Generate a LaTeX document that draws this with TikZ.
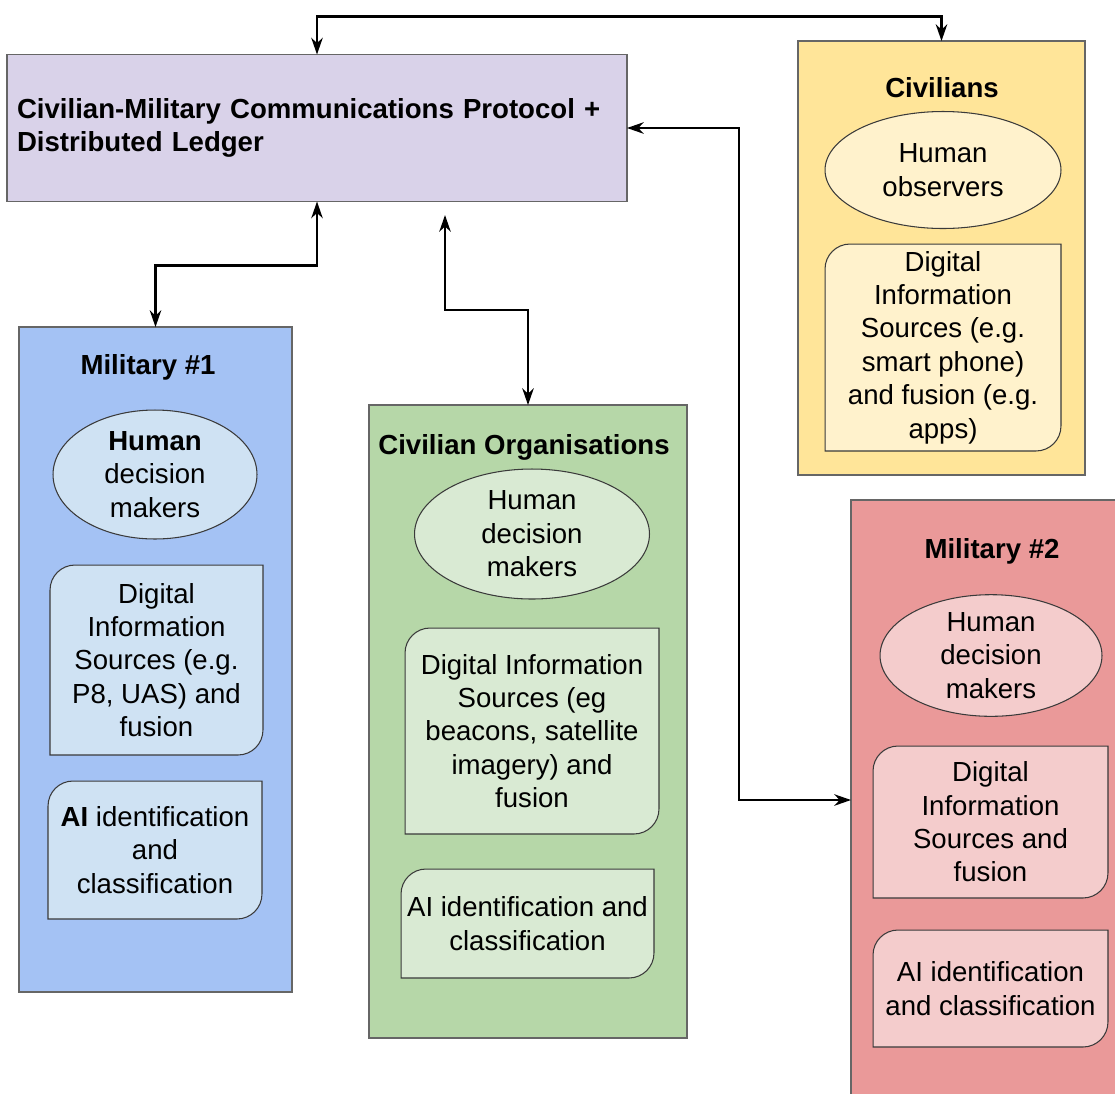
\documentclass[tikz,border=0pt]{standalone}
\usepackage{fontspec}
\setmainfont{Liberation Sans}
\usepackage{xcolor}
\usepackage{tikz}
\usetikzlibrary{arrows.meta,shapes.geometric}

\pgfdeclarelayer{back}
\pgfdeclarelayer{mid}
\pgfsetlayers{back,mid,main}

\definecolor{groupline}{HTML}{666666}
\definecolor{shapeline}{HTML}{3A3A3A}
\definecolor{ledgerfill}{HTML}{D9D2E9}
\definecolor{mil1fill}{HTML}{A4C2F4}
\definecolor{mil1light}{HTML}{CFE2F3}
\definecolor{orgfill}{HTML}{B6D7A8}
\definecolor{orglight}{HTML}{D9EAD3}
\definecolor{civfill}{HTML}{FFE599}
\definecolor{civlight}{HTML}{FFF2CC}
\definecolor{mil2fill}{HTML}{EA9999}
\definecolor{mil2light}{HTML}{F4CCCC}

\tikzset{
  every node/.style={font=\fontsize{15.7}{19}\selectfont, outer sep=0pt},
  group/.style={rectangle, draw=groupline, line width=0.7pt, inner sep=0pt},
  title/.style={font=\fontsize{15.7}{19}\selectfont\bfseries},
  human/.style={ellipse, draw=shapeline, line width=0.6pt, inner sep=0pt, align=center},
  srctext/.style={rectangle, inner sep=0pt, align=center},
  srcline/.style={draw=shapeline, line width=0.6pt},
  link/.style={<->, line width=1.4pt}
}

% box with two rounded corners (top left, bottom right), drawn under the text
\newcommand{\srcshape}[2]{%
  \begin{pgfonlayer}{mid}
  \filldraw[srcline, fill=#2] (#1.south west) -- ([yshift=-0.5cm]#1.north west)
    arc[start angle=180, end angle=90, radius=0.5cm] -- (#1.north east)
    -- ([yshift=0.5cm]#1.south east) arc[start angle=0, end angle=-90, radius=0.5cm] -- cycle;
  \end{pgfonlayer}}

\begin{document}
\begin{tikzpicture}[x=0.02cm, y=0.02cm, >={Stealth[length=9.5pt,width=6.5pt,inset=3pt]}]
  \useasboundingbox (0,0) rectangle (1115,-1093);

  % groups
  \begin{pgfonlayer}{back}
  \node[group, fill=ledgerfill, minimum width=12.4cm, minimum height=2.94cm, text width=12cm, align=left,
        font=\fontsize{15.7}{19}\selectfont\bfseries] (proto) at (317,-128)
        {Civilian-Military Communications Protocol +\\Distributed Ledger};
  \node[group, fill=mil1fill, minimum width=5.46cm, minimum height=13.3cm] (mil1) at (155.5,-659.5) {};
  \node[group, fill=orgfill, minimum width=6.36cm, minimum height=12.66cm] (civorg) at (528,-721.5) {};
  \node[group, fill=civfill, minimum width=5.74cm, minimum height=8.68cm] (civ) at (941.5,-258) {};
  \node[group, fill=mil2fill, minimum width=5.4cm, minimum height=12cm] (mil2) at (986,-800) {};
  \end{pgfonlayer}

  \node[title] (mil1title) at (148,-367) {Military \#1};
  \node[title] (orgtitle) at (524,-447) {Civilian Organisations};
  \node[title] (civtitle) at (942,-88) {Civilians};
  \node[title] (mil2title) at (992,-551) {Military \#2};

  % decision makers
  \node[human, fill=mil1light, minimum width=4.08cm, minimum height=2.58cm] (mil1human) at (155,-474.5) {\textbf{Human}\\decision\\makers};
  \node[human, fill=orglight, minimum width=4.7cm, minimum height=2.6cm] (orghuman) at (532,-534) {Human\\decision\\makers};
  \node[human, fill=civlight, minimum width=4.72cm, minimum height=2.34cm] (civhuman) at (943,-170) {Human\\observers};
  \node[human, fill=mil2light, minimum width=4.44cm, minimum height=2.3cm] (mil2human) at (991,-655.5) {Human\\decision\\makers};

  % sources and AI
  \node[srctext, minimum width=4.26cm, minimum height=3.8cm] (mil1src) at (156.5,-660) {Digital\\Information\\Sources (e.g.\\P8, UAS) and\\fusion};
  \srcshape{mil1src}{mil1light}
  \node[srctext, minimum width=4.28cm, minimum height=2.76cm] (mil1ai) at (155,-850) {\textbf{AI} identification\\and\\classification};
  \srcshape{mil1ai}{mil1light}
  \node[srctext, minimum width=5.08cm, minimum height=4.12cm] (orgsrc) at (532,-731) {Digital Information\\Sources (eg\\beacons, satellite\\imagery) and\\fusion};
  \srcshape{orgsrc}{orglight}
  \node[srctext, minimum width=5.06cm, minimum height=2.18cm] (orgai) at (527.5,-923.5) {AI identification and\\classification};
  \srcshape{orgai}{orglight}
  \node[srctext, minimum width=4.72cm, minimum height=4.14cm] (civsrc) at (943,-347.5) {Digital\\Information\\Sources (e.g.\\smart phone)\\and fusion (e.g.\\apps)};
  \srcshape{civsrc}{civlight}
  \node[srctext, minimum width=4.7cm, minimum height=3.04cm] (mil2src) at (990.5,-822) {Digital\\Information\\Sources and\\fusion};
  \srcshape{mil2src}{mil2light}
  \node[srctext, minimum width=4.7cm, minimum height=2.34cm] (mil2ai) at (990.5,-988.5) {AI identification\\and classification};
  \srcshape{mil2ai}{mil2light}

  % links
  \coordinate (ledgerin) at (445,-215);
  \draw[link] (proto.north) -- ++(0,38) -| (civ.north);
  \draw[link] (proto.south) -- ++(0,-64) -| (mil1.north);
  \draw[link] (civorg.north) -- ++(0,95) -| (ledgerin);
  \draw[link] (proto.east) -- ++(112,0) |- (mil2.west);
\end{tikzpicture}
\end{document}
